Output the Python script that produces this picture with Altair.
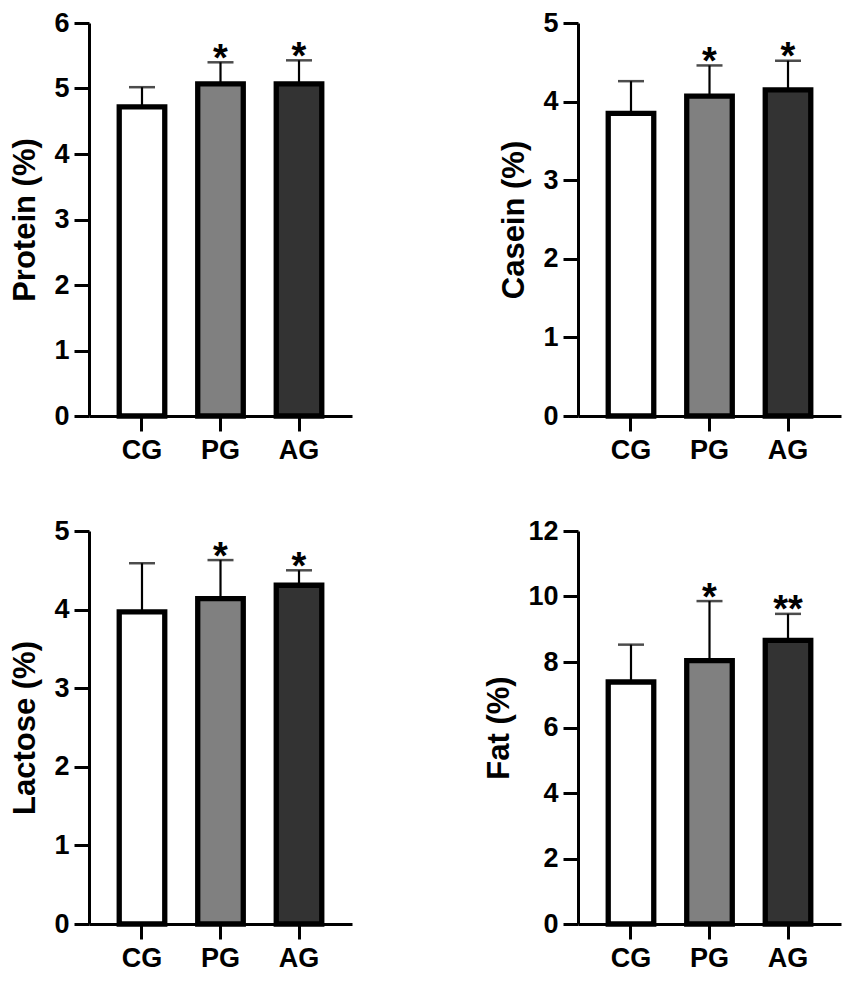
import altair as alt
import pandas as pd

groups = ["CG", "PG", "AG"]

protein_mean = [4.72, 5.07, 5.07]
protein_upper = [5.02, 5.40, 5.43]
protein_sig = ["", "*", "*"]

casein_mean = [3.85, 4.07, 4.15]
casein_upper = [4.26, 4.46, 4.52]
casein_sig = ["", "*", "*"]

lactose_mean = [3.97, 4.14, 4.31]
lactose_upper = [4.59, 4.63, 4.50]
lactose_sig = ["", "*", "*"]

fat_mean = [7.39, 8.04, 8.66]
fat_upper = [8.53, 9.86, 9.47]
fat_sig = ["", "*", "**"]

FONT = "Liberation Sans"
FILLS = ["#ffffff", "#808080", "#333333"]


def panel(title, mean, upper, sig, ymax, step):
    df = pd.DataFrame({"group": groups, "mean": mean, "upper": upper, "sig": sig})
    ticks = list(range(0, ymax + 1, step))
    x = alt.X(
        "group:N",
        sort=groups,
        scale=alt.Scale(paddingInner=0.42, paddingOuter=0.385),
        axis=alt.Axis(title=None, labelAngle=0, labelPadding=6),
    )
    y_scale = alt.Scale(domain=[0, ymax], nice=False)
    base = alt.Chart(df).encode(x=x)
    bars = base.mark_bar(stroke="black", strokeWidth=5.3).encode(
        y=alt.Y(
            "mean:Q",
            scale=y_scale,
            axis=alt.Axis(title=title, values=ticks, format="d", titlePadding=12),
        ),
        fill=alt.Fill("group:N", scale=alt.Scale(domain=groups, range=FILLS), legend=None),
    )
    err = base.mark_rule(color="black", strokeWidth=2.2).encode(
        y=alt.Y("mean:Q", scale=y_scale), y2="upper:Q"
    )
    cap = base.mark_tick(color="black", size=26, thickness=2.5).encode(
        y=alt.Y("upper:Q", scale=y_scale)
    )
    star = base.mark_text(
        font=FONT, fontWeight="bold", fontSize=38, baseline="alphabetic", dy=8.5, color="black"
    ).encode(y=alt.Y("upper:Q", scale=y_scale), text="sig:N")
    return alt.layer(bars, err, cap, star).properties(width=263, height=393)


p1 = panel("Protein (%)", protein_mean, protein_upper, protein_sig, 6, 1)
p2 = panel("Casein (%)", casein_mean, casein_upper, casein_sig, 5, 1)
p3 = panel("Lactose (%)", lactose_mean, lactose_upper, lactose_sig, 5, 1)
p4 = panel("Fat (%)", fat_mean, fat_upper, fat_sig, 12, 2)

chart = (
    alt.concat(p1, p2, p3, p4, columns=2, spacing={"row": 52, "column": 130})
    .properties(padding={"left": 1, "top": 0, "right": 0, "bottom": 0})
    .configure_axis(
        domainColor="black",
        domainWidth=3,
        tickColor="black",
        tickWidth=3,
        tickSize=15,
        labelFont=FONT,
        labelFontSize=27,
        labelFontWeight="bold",
        labelColor="black",
        labelPadding=5,
        titleFont=FONT,
        titleFontSize=31,
        titleFontWeight="bold",
        titleColor="black",
        grid=False,
    )
    .configure_view(stroke="transparent")
)

chart.save("out.html", embed_options={"renderer": "svg", "actions": False})
